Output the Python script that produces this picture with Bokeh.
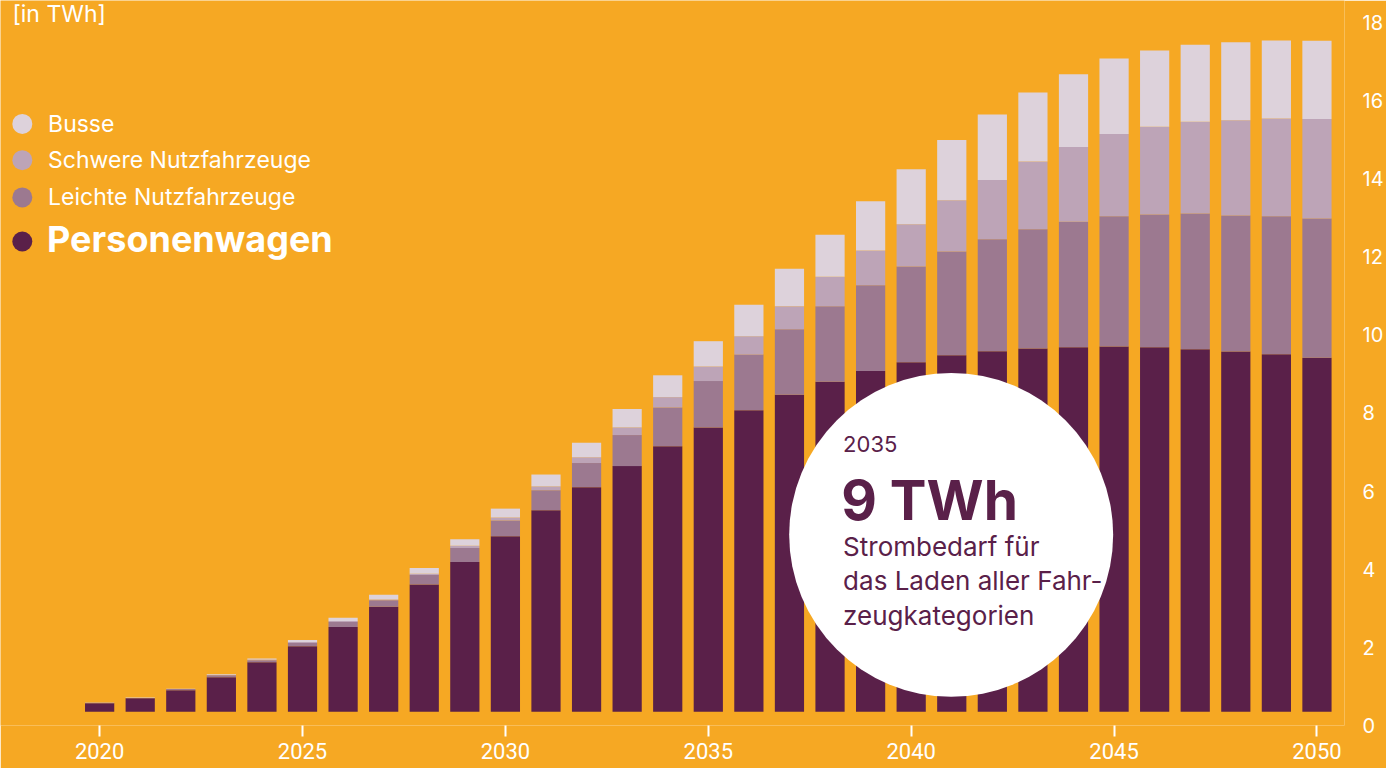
from bokeh.plotting import figure
from bokeh.models import Range1d, LinearAxis, FixedTicker, Label, ColumnDataSource
from bokeh.embed import file_html
from bokeh.resources import INLINE

# ---------------- data (TWh) ----------------
years = list(range(2020, 2051))
personenwagen = [0.22, 0.35, 0.56, 0.90, 1.29, 1.71, 2.21, 2.74, 3.32, 3.91,
                 4.58, 5.26, 5.86, 6.41, 6.93, 7.42, 7.87, 8.27, 8.61, 8.89,
                 9.12, 9.30, 9.41, 9.48, 9.51, 9.53, 9.51, 9.46, 9.40, 9.33, 9.24]
leichte = [0.01, 0.01, 0.03, 0.05, 0.05, 0.08, 0.13, 0.17, 0.25, 0.36,
           0.41, 0.52, 0.63, 0.81, 1.01, 1.21, 1.45, 1.71, 1.97, 2.24,
           2.50, 2.71, 2.92, 3.11, 3.28, 3.40, 3.47, 3.54, 3.55, 3.60, 3.63]
schwere = [0.00, 0.00, 0.00, 0.01, 0.02, 0.03, 0.03, 0.02, 0.03, 0.06,
           0.08, 0.10, 0.15, 0.20, 0.27, 0.38, 0.48, 0.60, 0.77, 0.91,
           1.10, 1.34, 1.55, 1.77, 1.95, 2.15, 2.29, 2.40, 2.49, 2.55, 2.60]
busse = [0.01, 0.01, 0.01, 0.02, 0.03, 0.05, 0.08, 0.12, 0.15, 0.17,
         0.23, 0.31, 0.38, 0.48, 0.57, 0.66, 0.82, 0.98, 1.10, 1.28,
         1.44, 1.57, 1.71, 1.80, 1.90, 1.97, 1.99, 2.01, 2.03, 2.04, 2.04]

series_names = ["Busse", "Schwere Nutzfahrzeuge", "Leichte Nutzfahrzeuge", "Personenwagen"]
x_ticks = [2020, 2025, 2030, 2035, 2040, 2045, 2050]
x_tick_labels = ["2020", "2025", "2030", "2035", "2040", "2045", "2050"]
y_ticks = [0, 2, 4, 6, 8, 10, 12, 14, 16, 18]
unit_label = "[in TWh]"
callout_year = "2035"
callout_value = "9 TWh"
callout_lines = ["Strombedarf für", "das Laden aller Fahr-", "zeugkategorien"]

# ---------------- style ----------------
BG = "#F6A823"
C_P = "#5A2049"
C_L = "#9C7990"
C_S = "#BDA4B7"
C_B = "#DDD2DB"
FONT = "Inter"

# ---------------- layout (reference pixels scaled to the figure) ----------------
W, H = 1386, 768
SX, SY = W / 1394.0, H / 784.0
BB = 43
FR_BOT = H - BB
FR_RIGHT = round(1356 * SX)

PX_YEAR = (1328 - 100) * SX / 30.0
x0 = 2020 - 100 * SX / PX_YEAR
x1 = x0 + FR_RIGHT / PX_YEAR

# bars: value 0 at ref y 726, value 18 at ref y 22; frame spans the full top
ZERO_F, TOP18_F = 726 * SY, 22 * SY
PPU = (ZERO_F - TOP18_F) / 18.0
y1 = 18.0 + TOP18_F / PPU
y0 = -(FR_BOT - ZERO_F) / PPU

# axis labels: "0" at frame bottom, "18" at ref y 22
APPU = (FR_BOT - TOP18_F) / 18.0
a1 = 18.0 + TOP18_F / APPU


def xd(rx):
    return x0 + rx * SX / PX_YEAR


def yd(ry):
    return (ZERO_F - ry * SY) / PPU


p = figure(width=W, height=H, x_range=Range1d(x0, x1), y_range=Range1d(y0, y1),
           output_backend="svg", toolbar_location=None,
           min_border_left=0, min_border_right=W - FR_RIGHT,
           min_border_top=0, min_border_bottom=BB,
           y_axis_location=None)
p.background_fill_color = BG
p.border_fill_color = BG
p.outline_line_color = None
p.grid.visible = False

src = ColumnDataSource(dict(year=years, p=personenwagen, l=leichte, s=schwere, b=busse))
p.vbar_stack(["p", "l", "s", "b"], x="year", width=0.72, source=src,
             fill_color=[C_P, C_L, C_S, C_B], line_color=None)

# x axis
xa = p.xaxis[0]
xa.ticker = FixedTicker(ticks=x_ticks)
xa.major_label_overrides = {t: l for t, l in zip(x_ticks, x_tick_labels)}
xa.axis_line_color = None
xa.minor_tick_line_color = None
xa.major_tick_line_color = "white"
xa.major_tick_line_width = 2
xa.major_tick_in = 0
xa.major_tick_out = 11
xa.major_label_standoff = 6
xa.major_label_text_color = "white"
xa.major_label_text_font = "Roboto"
xa.major_label_text_font_size = "22px"

# y axis (right)
p.extra_y_ranges = {"ax": Range1d(0, a1)}
ya = LinearAxis(y_range_name="ax", ticker=FixedTicker(ticks=y_ticks))
ya.axis_line_color = None
ya.minor_tick_line_color = None
ya.major_tick_line_color = None
ya.major_label_standoff = 12
ya.major_label_text_color = "white"
ya.major_label_text_font = FONT
ya.major_label_text_font_size = "20px"
p.add_layout(ya, "right")

# callout circle
p.circle(x=[xd(959)], y=[yd(545.5)], radius=162, radius_units="screen",
         fill_color="white", line_color=None)


def lab(text, rx, ry, size, color, bold=False):
    p.add_layout(Label(x=xd(rx), y=yd(ry), text=text, text_font=FONT,
                       text_font_size=size, text_color=color,
                       text_font_style="bold" if bold else "normal",
                       text_baseline="middle", text_align="left"))


lab(callout_year, 850, 453, "22px", C_P)
lab(callout_value, 848, 510, "55px", C_P, bold=True)
for i, line in enumerate(callout_lines):
    lab(line, 850, 557 + 35.5 * i, "26px", C_P)

# unit label
lab(unit_label, 12, 14, "23px", "white")

# legend
leg_y = [126, 163, 201, 246]
leg_c = [C_B, C_S, C_L, C_P]
p.scatter(x=[xd(22)] * 4, y=[yd(v) for v in leg_y], size=20, marker="circle",
          fill_color=leg_c, line_color=None)
for name, yy in zip(series_names[:3], leg_y[:3]):
    lab(name, 48, yy, "23px", "white")
lab(series_names[3], 47, 243, "36px", "white", bold=True)

open("out.html", "w").write(file_html(p, INLINE))
